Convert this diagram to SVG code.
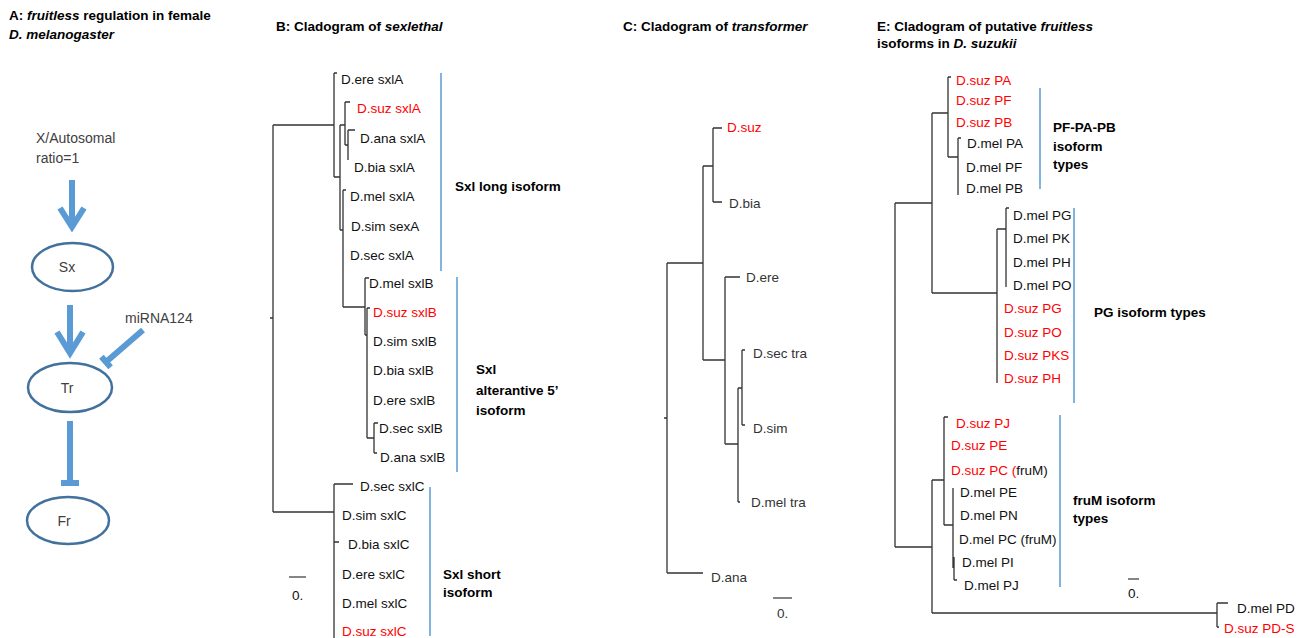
<svg xmlns="http://www.w3.org/2000/svg" width="1306" height="638" viewBox="0 0 1306 638">
<style>
text{font-family:"Liberation Sans",Arial,sans-serif;}
.h{font-size:13.5px;font-weight:bold;fill:#000;}
.i{font-style:italic;}
.lb{font-size:13.5px;fill:#111;}
.lc{font-size:13.5px;fill:#333;}
.r{fill:#ff0000;}
.bl{font-size:13.5px;font-weight:bold;fill:#000;}
.ga{font-size:14px;fill:#404040;}
.tree{fill:none;stroke:#333;stroke-width:1.3;}
.grp{fill:none;stroke:#5b9bd5;stroke-width:1.5;}
.arr{fill:none;stroke:#5b9bd5;stroke-width:6;stroke-linejoin:miter;}
.node{fill:#fff;stroke:#41719c;stroke-width:2.5;}
.sb{fill:none;stroke:#333;stroke-width:1.2;}
</style>
<rect width="1306" height="638" fill="#fff"/>

<!-- Panel A -->
<g id="panelA-title">
<text class="h" x="9" y="20">A: <tspan class="i">fruitless</tspan> regulation in female</text>
<text class="h i" x="9" y="39">D. melanogaster</text>
</g>
<g id="node-ratio"><text class="ga" x="36" y="143">X/Autosomal</text><text class="ga" x="36" y="163">ratio=1</text></g>
<g id="node-Sx"><ellipse class="node" cx="72.5" cy="267" rx="40.5" ry="24"/><text class="ga" x="67" y="272" text-anchor="middle">Sx</text></g>
<g id="node-Tr"><ellipse class="node" cx="70" cy="387.5" rx="42" ry="24.5"/><text class="ga" x="67" y="393" text-anchor="middle">Tr</text></g>
<g id="node-Fr"><ellipse class="node" cx="68" cy="520.5" rx="41" ry="23.5"/><text class="ga" x="64" y="526" text-anchor="middle">Fr</text></g>
<g id="node-miRNA"><text class="ga" x="125" y="323">miRNA124</text></g>
<g id="connectorsA">
<path class="arr" d="M72,180 V226 M60,208 L72,227 L84,208"/>
<path class="arr" d="M70,305 V352 M57,332 L70,353 L83,332"/>
<path class="arr" d="M143,330 L106,362 M101.4,356.7 L110.6,367.3"/>
<path class="arr" d="M70,421 V482 M61,483 H79"/>
</g>

<!-- Panel B -->
<g id="panelB-title"><text class="h" x="276" y="31">B: Cladogram of <tspan class="i">sexlethal</tspan></text></g>
<g id="treeB-branches">
<path class="tree" d="M273,125 V512 M273,125 H334 M273,512 H334 M270,318 H273
M334,73 V177 M334,73 H337 M334,177 H340
M340,125 V230 M340,125 H345 M340,230 H343
M345,102 V145 M345,102 H350 M345,145 H348
M348,130 V160 M348,130 H355
M343,190 V307 M343,190 H346 M343,307 H365
M365,278 V335 M365,278 H369 M365,335 H367
M367,308 V438 M367,308 H370 M367,438 H374
M374,423 V453 M374,423 H378 M374,453 H377
M334,484 V638 M334,484 H353 M334,542 H339"/>
<path class="grp" d="M441,73 V271 M457,277 V472 M430,487 V636"/>
<path class="sb" d="M289,577 H306"/>
</g>
<g id="treeB-labels">
<text class="lb" x="341" y="84">D.ere sxlA</text>
<text class="lb r" x="357" y="113">D.suz sxlA</text>
<text class="lb" x="360" y="143">D.ana sxlA</text>
<text class="lb" x="354" y="172">D.bia sxlA</text>
<text class="lb" x="350" y="201">D.mel sxlA</text>
<text class="lb" x="351" y="231">D.sim sexA</text>
<text class="lb" x="350" y="260">D.sec sxlA</text>
<text class="lb" x="369" y="288">D.mel sxlB</text>
<text class="lb r" x="373" y="317">D.suz sxlB</text>
<text class="lb" x="373" y="346">D.sim sxlB</text>
<text class="lb" x="373" y="375">D.bia sxlB</text>
<text class="lb" x="373" y="405">D.ere sxlB</text>
<text class="lb" x="379" y="433">D.sec sxlB</text>
<text class="lb" x="380" y="462">D.ana sxlB</text>
<text class="lb" x="360" y="491">D.sec sxlC</text>
<text class="lb" x="342" y="520">D.sim sxlC</text>
<text class="lb" x="348" y="549">D.bia sxlC</text>
<text class="lb" x="342" y="579">D.ere sxlC</text>
<text class="lb" x="342" y="608">D.mel sxlC</text>
<text class="lb r" x="342" y="636">D.suz sxlC</text>
<text class="lb" x="292" y="600">0.</text>
</g>
<g id="treeB-groups">
<text class="bl" x="455" y="191">Sxl long isoform</text>
<text class="bl" x="476" y="374">Sxl</text>
<text class="bl" x="476" y="395">alterantive 5’</text>
<text class="bl" x="476" y="415">isoform</text>
<text class="bl" x="443" y="579">Sxl short</text>
<text class="bl" x="443" y="597">isoform</text>
</g>

<!-- Panel C -->
<g id="panelC-title"><text class="h" x="623" y="31">C: Cladogram of <tspan class="i">transformer</tspan></text></g>
<g id="treeC-branches">
<path class="tree" d="M667,263 V573 M667,263 H703 M667,573 H703 M664,418 H667
M703,166 V360 M703,166 H713 M703,360 H725
M713,128 V202 M713,128 H722 M713,202 H722
M725,277 V444 M725,277 H740 M725,444 H738
M738,388 V502 M738,388 H742 M738,502 H740
M742,350 V425 M742,350 H745 M742,425 H745"/>
<path class="sb" d="M773,598 H792"/>
</g>
<g id="treeC-labels">
<text class="lc r" x="727" y="132">D.suz</text>
<text class="lc" x="729" y="208">D.bia</text>
<text class="lc" x="746" y="282">D.ere</text>
<text class="lc" x="753" y="358">D.sec tra</text>
<text class="lc" x="753" y="433">D.sim</text>
<text class="lc" x="751" y="507">D.mel tra</text>
<text class="lc" x="711" y="582">D.ana</text>
<text class="lc" x="777" y="618">0.</text>
</g>

<!-- Panel E -->
<g id="panelE-title">
<text class="h" x="877" y="31">E: Cladogram of putative <tspan class="i">fruitless</tspan></text>
<text class="h" x="877" y="48">isoforms in <tspan class="i">D. suzukii</tspan></text>
</g>
<g id="treeE-branches">
<path class="tree" d="M895,203 V547 M895,203 H932 M895,547 H932
M932,113 V293 M932,113 H948 M932,293 H997
M948,77 V157 M948,77 H951 M948,157 H958
M958,138 V195 M958,138 H961
M997,229 V383 M997,229 H1006
M1006,208 V287 M1006,208 H1009
M932,480 V613 M932,480 H944 M932,613 H1217
M944,417 V525 M944,417 H948 M944,525 H953
M953,488 V568 M954,557 V580 M954,580 H957
M1217,603 V627 M1217,603 H1228 M1217,627 H1219"/>
<path class="grp" d="M1040,88 V189 M1074,208 V403 M1060,415 V587"/>
<path class="sb" d="M1128,579 H1139"/>
</g>
<g id="treeE-labels">
<text class="lb r" x="956" y="85">D.suz PA</text>
<text class="lb r" x="956" y="105">D.suz PF</text>
<text class="lb r" x="956" y="127">D.suz PB</text>
<text class="lb" x="967" y="148">D.mel PA</text>
<text class="lb" x="966" y="172">D.mel PF</text>
<text class="lb" x="966" y="193">D.mel PB</text>
<text class="lb" x="1013" y="220">D.mel PG</text>
<text class="lb" x="1013" y="243">D.mel PK</text>
<text class="lb" x="1013" y="267">D.mel PH</text>
<text class="lb" x="1013" y="290">D.mel PO</text>
<text class="lb r" x="1004" y="313">D.suz PG</text>
<text class="lb r" x="1004" y="337">D.suz PO</text>
<text class="lb r" x="1004" y="360">D.suz PKS</text>
<text class="lb r" x="1004" y="383">D.suz PH</text>
<text class="lb r" x="956" y="428">D.suz PJ</text>
<text class="lb r" x="951" y="450">D.suz PE</text>
<text class="lb" x="951" y="475"><tspan class="r">D.suz PC (</tspan>fruM)</text>
<text class="lb" x="960" y="497">D.mel PE</text>
<text class="lb" x="960" y="520">D.mel PN</text>
<text class="lb" x="959" y="544">D.mel PC (fruM)</text>
<text class="lb" x="962" y="567">D.mel PI</text>
<text class="lb" x="964" y="590">D.mel PJ</text>
<text class="lb" x="1237" y="613">D.mel PD</text>
<text class="lb r" x="1224" y="633">D.suz PD-S</text>
<text class="lb" x="1128" y="598">0.</text>
</g>
<g id="treeE-groups">
<text class="bl" x="1053" y="132">PF-PA-PB</text>
<text class="bl" x="1053" y="150.5">isoform</text>
<text class="bl" x="1053" y="169">types</text>
<text class="bl" x="1094" y="317">PG isoform types</text>
<text class="bl" x="1073" y="505">fruM isoform</text>
<text class="bl" x="1073" y="523">types</text>
</g>
</svg>
